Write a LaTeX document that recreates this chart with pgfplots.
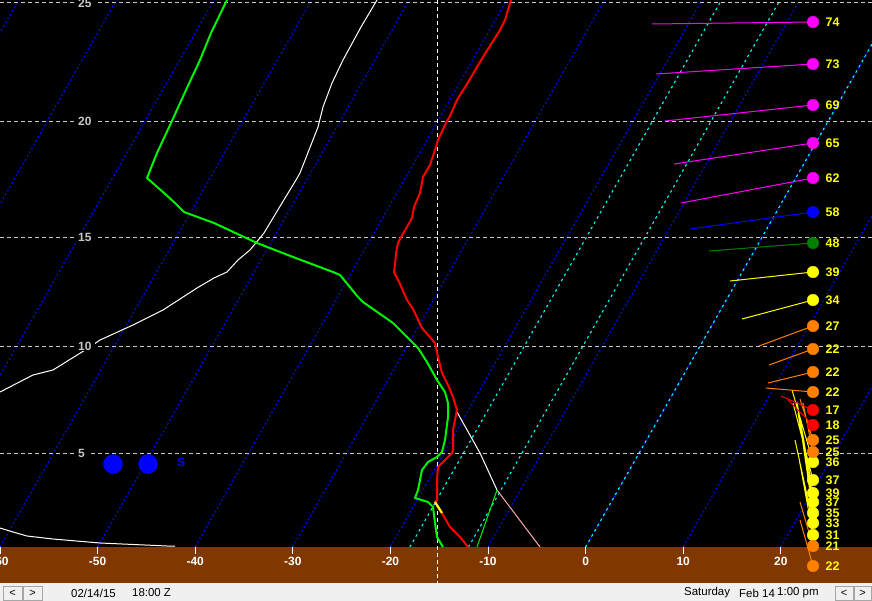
\documentclass[border=0pt]{standalone}
\usepackage{pgfplots}
\pgfplotsset{compat=1.18}
\usepackage{pgfplotstable}
\usepackage{fontspec}
\setmainfont{Liberation Sans}
\definecolor{band}{RGB}{128,56,0}
\definecolor{barbg}{RGB}{240,240,240}
\definecolor{gridgray}{RGB}{200,200,200}
\definecolor{isoblue}{RGB}{0,0,255}
\definecolor{mixcyan}{RGB}{0,255,255}
\definecolor{wmag}{RGB}{255,0,255}
\definecolor{wblue}{RGB}{0,0,255}
\definecolor{wgreen}{RGB}{0,128,0}
\definecolor{wyel}{RGB}{255,255,0}
\definecolor{wora}{RGB}{255,128,0}
\definecolor{wred}{RGB}{255,0,0}
\definecolor{tgreen}{RGB}{0,245,0}
\definecolor{pinkish}{RGB}{255,170,170}
\tikzset{
 tl/.style={text=white, font=\bfseries\fontsize{12}{12}\selectfont, inner sep=0pt},
 yl/.style={anchor=west, fill=black, text=gridgray, inner xsep=4bp, inner ysep=1bp,
        font=\bfseries\fontsize{12}{12}\selectfont},
 sb/.style={anchor=west, inner sep=0pt, font=\fontsize{11.5}{11.5}\selectfont},
}

% all x values below are read in screen pixels and converted to deg C by x/9.76-60
\pgfplotstableread{
x y
511 0
505 20
500 30
483 57
467 84
457 100
450 116
446 123
438 140
436 147
430 165
423 177
420 193
414 207
412 218
400 239
398 243
396 253
395 265
394 272
397 278
400 284
407 300
413 309
422 328
435 343
438 357
442 373
448 385
453 397
457 410
455 420
453 430
453 450
452 453
443 462
438 467
437 480
437 500
435 502
442 513
443 515
450 527
460 537
468 547
}\tempT

\pgfplotstableread{
x y
227 0
211 33
200 60
186 90
171 123
157 153
147 178
164 193
175 203
184 212
214 223
257 243
293 257
333 272
340 275
358 297
363 302
393 323
410 340
418 348
427 362
437 380
445 392
448 403
448 417
445 440
442 452
437 457
428 462
422 470
418 490
415 498
428 502
433 507
435 523
437 537
443 547
}\dewT

\pgfplotstableread{
x y
377 0
361 27
343 60
332 83
323 107
318 127
309 150
300 173
296 180
282 203
264 233
250 250
238 260
227 272
214 278
197 288
163 310
133 325
100 340
90 347
53 370
33 375
0 392
nan nan
0 528
13 532
27 536
53 539
100 543
167 546
175 546
nan nan
457 412
480 453
497 490
}\whiteL

\pgfplotstableread{
x y
813 22
652 24
nan nan
813 64
656 74
nan nan
813 105
665 121
nan nan
813 143
674 164
nan nan
813 178
681 203
}\barbMag
\pgfplotstableread{
x y
813 212
690 229
}\barbBlue
\pgfplotstableread{
x y
813 243
709 251
}\barbGreen
\pgfplotstableread{
x y
813 272
730 281
nan nan
813 300
742 319
nan nan
813 462
792 390
nan nan
813 480
793 403
nan nan
813 493
797 402
nan nan
813 502
798 413
nan nan
813 513
800 423
nan nan
813 523
795 440
nan nan
813 535
798 453
}\barbYel
\pgfplotstableread{
x y
813 326
759 346
nan nan
813 349
769 365
nan nan
813 372
768 383
nan nan
813 392
766 388
nan nan
813 440
800 399
nan nan
813 452
803 403
nan nan
813 546
800 502
nan nan
813 566
800 520
}\barbOra
\pgfplotstableread{
x y
813 410
781 396
nan nan
813 425
788 400
}\barbRed

\pgfplotstableread{
x y s
813 22 74
813 64 73
813 105 69
813 143 65
813 178 62
}\dotMag
\pgfplotstableread{
x y s
813 212 58
}\dotBlue
\pgfplotstableread{
x y s
813 243 48
}\dotGreen
\pgfplotstableread{
x y s
813 272 39
813 300 34
813 462 36
813 480 37
813 493 39
813 502 37
813 513 35
813 523 33
813 535 31
}\dotYel
\pgfplotstableread{
x y s
813 326 27
813 349 22
813 372 22
813 392 22
813 440 25
813 452 25
813 546 21
813 566 22
}\dotOra
\pgfplotstableread{
x y s
813 410 17
813 425 18
}\dotRed

\begin{document}
\begin{tikzpicture}
\begin{axis}[
 width=872bp, height=601bp, scale only axis,
 xmin=-60, xmax=29.3443, ymin=0, ymax=601, y dir=reverse,
 hide axis, clip=true, unbounded coords=jump,
 every axis plot/.append style={line join=round},
 barbdots/.style={only marks, mark=*, mark size=5.8pt,
   nodes near coords, point meta=explicit symbolic,
   nodes near coords style={anchor=west, xshift=12.5bp, inner sep=0pt,
     text=wyel, font=\bfseries\fontsize{12.5}{12.5}\selectfont}},
]
% background
\addplot[fill=black, draw=none] coordinates {(-60,0) (29.3443,0) (29.3443,547) (-60,547)} -- cycle;
% skewed isotherms (bottom temperature -> top position)
\addplot[isoblue, line width=1.1bp, dash pattern=on 2bp off 2.4bp] coordinates {
(-90,547) (-58.08,0) (nan,nan)
(-80,547) (-48.08,0) (nan,nan)
(-70,547) (-38.08,0) (nan,nan)
(-60,547) (-28.08,0) (nan,nan)
(-50,547) (-18.08,0) (nan,nan)
(-40,547) (-8.08,0) (nan,nan)
(-30,547) (1.92,0) (nan,nan)
(-20,547) (11.92,0) (nan,nan)
(-10,547) (21.92,0) (nan,nan)
(0,547) (31.92,0) (nan,nan)
(10,547) (41.92,0) (nan,nan)
(20,547) (51.92,0)};
% highlighted isotherms -18, -12, 0
\addplot[mixcyan, line width=1.1bp, dash pattern=on 2.5bp off 3.5bp] coordinates {
(-18,547) (13.92,0) (nan,nan)
(-12,547) (19.92,0) (nan,nan)
(0,547) (31.92,0)};
% height lines
\addplot[gridgray, line width=1bp, dash pattern=on 4bp off 3bp] coordinates {
(-60,3) (29.3443,3) (nan,nan)
(-60,121) (29.3443,121) (nan,nan)
(-60,237) (29.3443,237) (nan,nan)
(-60,346) (29.3443,346) (nan,nan)
(-60,453) (29.3443,453)};
% ground band and status bar
\addplot[fill=band, draw=none] coordinates {(-60,547) (29.3443,547) (29.3443,583) (-60,583)} -- cycle;
\addplot[fill=barbg, draw=none] coordinates {(-60,583) (29.3443,583) (29.3443,601) (-60,601)} -- cycle;
% -15 C line
\addplot[white, line width=1bp, dash pattern=on 4bp off 3bp] coordinates {(-15.15,0) (-15.15,583)};
% x ticks
\addplot[white, line width=1bp] coordinates {
(-60,547) (-60,554) (nan,nan) (-50,547) (-50,554) (nan,nan)
(-40,547) (-40,554) (nan,nan) (-30,547) (-30,554) (nan,nan)
(-20,547) (-20,554) (nan,nan) (-10,547) (-10,554) (nan,nan)
(0,547) (0,554) (nan,nan) (10,547) (10,554) (nan,nan)
(20,547) (20,554)};
% sounding
\addplot[white, line width=1bp] table[x expr=\thisrow{x}/9.76-60, y=y] {\whiteL};
\addplot[pinkish, line width=1bp] coordinates {(-9.078,490) (-4.672,547)};
\addplot[tgreen, line width=1bp] coordinates {(-9.078,490) (-11.127,547)};
\addplot[tgreen, line width=2bp] table[x expr=\thisrow{x}/9.76-60, y=y] {\dewT};
\addplot[wred, line width=2bp] table[x expr=\thisrow{x}/9.76-60, y=y] {\tempT};
\addplot[wyel, line width=2.2bp] coordinates {(-15.430,502) (-14.713,513)};
% surface dots
\addplot[only marks, mark=*, mark size=9.5pt, isoblue] coordinates {(-48.422,464) (-44.836,464)};
% winds
\addplot[wmag, line width=1bp] table[x expr=\thisrow{x}/9.76-60, y=y] {\barbMag};
\addplot[wblue, line width=1bp] table[x expr=\thisrow{x}/9.76-60, y=y] {\barbBlue};
\addplot[wgreen, line width=1bp] table[x expr=\thisrow{x}/9.76-60, y=y] {\barbGreen};
\addplot[wyel, line width=1bp] table[x expr=\thisrow{x}/9.76-60, y=y] {\barbYel};
\addplot[wora, line width=1bp] table[x expr=\thisrow{x}/9.76-60, y=y] {\barbOra};
\addplot[wred, line width=1bp] table[x expr=\thisrow{x}/9.76-60, y=y] {\barbRed};
\addplot[barbdots, wmag] table[x expr=\thisrow{x}/9.76-60, y=y, meta=s] {\dotMag};
\addplot[barbdots, wblue] table[x expr=\thisrow{x}/9.76-60, y=y, meta=s] {\dotBlue};
\addplot[barbdots, wgreen] table[x expr=\thisrow{x}/9.76-60, y=y, meta=s] {\dotGreen};
\addplot[barbdots, wyel] table[x expr=\thisrow{x}/9.76-60, y=y, meta=s] {\dotYel};
\addplot[barbdots, wora] table[x expr=\thisrow{x}/9.76-60, y=y, meta=s] {\dotOra};
\addplot[barbdots, wred] table[x expr=\thisrow{x}/9.76-60, y=y, meta=s] {\dotRed};
% tick labels
\node[tl] at (axis cs:-60,561) {-60};
\node[tl] at (axis cs:-50,561) {-50};
\node[tl] at (axis cs:-40,561) {-40};
\node[tl] at (axis cs:-30,561) {-30};
\node[tl] at (axis cs:-20,561) {-20};
\node[tl] at (axis cs:-10,561) {-10};
\node[tl] at (axis cs:0,561) {0};
\node[tl] at (axis cs:10,561) {10};
\node[tl] at (axis cs:20,561) {20};
\node[yl] at (axis cs:-52.42,3) {25};
\node[yl] at (axis cs:-52.42,121) {20};
\node[yl] at (axis cs:-52.42,237) {15};
\node[yl] at (axis cs:-52.42,346) {10};
\node[yl] at (axis cs:-52.42,453) {5};
\node[anchor=west, inner sep=0pt, text=isoblue, font=\bfseries\fontsize{12}{12}\selectfont] at (axis cs:-41.86,462) {S};
% status bar
\draw[gray!70, fill=barbg] (axis cs:-59.69,586) rectangle (axis cs:-57.75,600);
\draw[gray!70, fill=barbg] (axis cs:-57.64,586) rectangle (axis cs:-55.70,600);
\draw[gray!70, fill=barbg] (axis cs:25.55,586) rectangle (axis cs:27.40,600);
\draw[gray!70, fill=barbg] (axis cs:27.50,586) rectangle (axis cs:29.24,600);
\node[font=\fontsize{11}{11}\selectfont] at (axis cs:-58.72,593) {<};
\node[font=\fontsize{11}{11}\selectfont] at (axis cs:-56.67,593) {>};
\node[font=\fontsize{11}{11}\selectfont] at (axis cs:26.48,593) {<};
\node[font=\fontsize{11}{11}\selectfont] at (axis cs:28.37,593) {>};
\node[sb] at (axis cs:-52.73,593) {02/14/15};
\node[sb] at (axis cs:-46.48,593) {18:00 Z};
\node[sb] at (axis cs:10.08,593) {Saturday};
\node[sb] at (axis cs:15.72,593) {Feb 14};
\node[sb] at (axis cs:19.61,593) {1:00 pm};
\end{axis}
\pgfresetboundingbox
\useasboundingbox (0,0) rectangle (872bp,601bp);
\end{tikzpicture}
\end{document}
